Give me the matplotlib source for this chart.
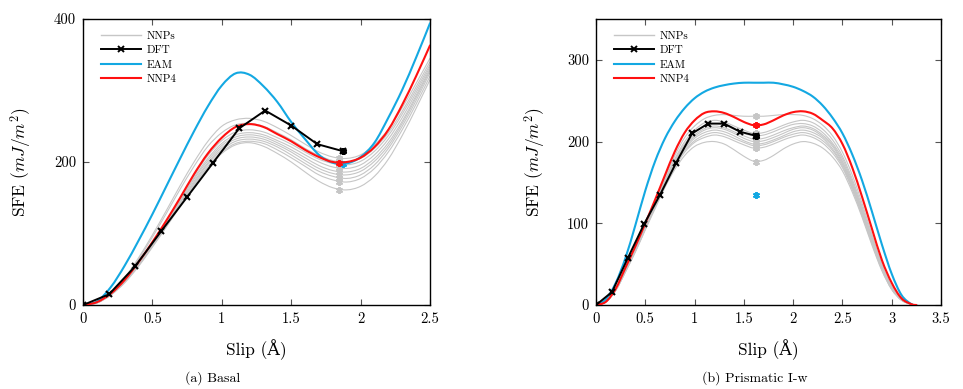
import numpy as np
import matplotlib
matplotlib.use("Agg")
import matplotlib.pyplot as plt
from matplotlib.ticker import FormatStrFormatter
from matplotlib.path import Path
from matplotlib.patches import PathPatch
from matplotlib.lines import Line2D

plt.rcParams['font.family'] = ['cmr10', 'DejaVu Serif']
plt.rcParams['mathtext.fontset'] = 'cm'
plt.rcParams['axes.formatter.use_mathtext'] = True
plt.rcParams['axes.unicode_minus'] = False

# colores
C_NNP = "#c6c6c6"
C_DFT = "black"
C_EAM = "#13a8e2"
C_NNP4 = "#ff1010"

# ---------------- Basal ----------------
basal_s = [0.0, 0.1, 0.2, 0.3, 0.4, 0.5, 0.6, 0.7, 0.8, 0.9, 1.0, 1.1, 1.2,
           1.3, 1.4, 1.5, 1.6, 1.7, 1.8, 1.9, 2.0, 2.1, 2.2, 2.3, 2.4, 2.5]
basal_eam = [0, 5, 25, 55, 90, 127, 166, 205, 243, 278, 307, 324, 322,
             306, 284, 256, 232, 210, 199, 198, 207, 227, 262, 301, 346, 394]
basal_nnp4 = [0, 4, 16, 35, 60, 88, 118, 150, 183, 212, 234, 249, 253,
              249, 239, 229, 217, 207, 200, 200, 206, 221, 245, 280, 320, 363]
basal_nnps = [
    [0, 4, 17, 38, 66, 98, 132, 167, 200, 229, 250, 259, 261, 257, 248, 237, 225, 214, 207, 205, 210, 224, 246, 276, 310, 345],
    [0, 4, 16, 37, 64, 95, 128, 162, 194, 222, 241, 252, 254, 250, 241, 231, 219, 209, 202, 200, 205, 219, 241, 271, 305, 340],
    [0, 4, 15, 34, 59, 87, 117, 149, 181, 209, 230, 242, 245, 242, 234, 225, 214, 204, 198, 196, 201, 215, 237, 267, 301, 336],
    [0, 4, 15, 34, 58, 86, 116, 147, 178, 205, 226, 238, 241, 238, 230, 221, 210, 200, 193, 191, 196, 210, 232, 262, 297, 333],
    [0, 3, 15, 33, 57, 85, 114, 145, 176, 202, 223, 235, 238, 235, 227, 217, 206, 195, 188, 186, 191, 205, 227, 257, 293, 330],
    [0, 3, 15, 33, 57, 84, 113, 143, 173, 199, 220, 232, 235, 232, 224, 214, 202, 191, 184, 182, 187, 201, 223, 254, 290, 328],
    [0, 3, 14, 32, 56, 83, 112, 142, 171, 197, 217, 229, 232, 229, 221, 210, 198, 187, 180, 177, 182, 196, 219, 250, 286, 325],
    [0, 3, 14, 32, 55, 82, 110, 140, 169, 194, 214, 226, 229, 226, 217, 206, 194, 182, 175, 172, 177, 191, 214, 245, 281, 320],
    [0, 3, 14, 31, 54, 81, 109, 138, 167, 192, 212, 224, 227, 222, 212, 200, 186, 173, 164, 161, 166, 180, 204, 237, 275, 315],
]
basal_dft_s = [0, 0.1875, 0.375, 0.5625, 0.75, 0.9375, 1.125, 1.3125, 1.5, 1.6875, 1.875]
basal_dft = [0, 15, 54, 103, 151, 199, 247, 272, 251, 225, 215]
# energias de falla (marcadores *)
basal_sf_s = 1.845
basal_sf_nnps = [205, 200, 196, 191, 186, 182, 177, 172, 161]
basal_sf_nnp4 = 199
basal_sf_eam_s = 1.875
basal_sf_eam = 197

# ---------------- Prismatic I-w ----------------
prism_s = [0.0, 0.1, 0.2, 0.3, 0.4, 0.5, 0.6, 0.7, 0.8, 0.9, 1.0, 1.1, 1.2,
           1.3, 1.4, 1.5, 1.6, 1.7, 1.8, 1.9, 2.0, 2.1, 2.2, 2.3, 2.4, 2.5,
           2.6, 2.7, 2.8, 2.9, 3.0, 3.1, 3.2, 3.25]
prism_eam = [0, 7, 27, 58, 98, 140, 176, 204, 225, 241, 253, 261, 266, 269, 271, 272, 272,
             272, 272, 270, 267, 262, 255, 244, 229, 210, 184, 152, 114, 74, 38, 12, 1, 0]
prism_nnp4 = [0, 4, 20, 46, 72, 100, 129, 159, 188, 211, 226, 235, 237, 235, 230, 224, 220,
              221, 226, 232, 236, 237, 234, 226, 216, 197, 168, 132, 93, 55, 27, 8, 1, 0]
prism_nnps = [
    [0, 4, 19, 44, 70, 98, 127, 156, 183, 205, 219, 228, 232, 233, 232, 231, 231, 231, 232, 233, 233, 232, 228, 220, 207, 187, 159, 124, 86, 50, 23, 7, 1, 0],
    [0, 4, 19, 43, 69, 97, 125, 153, 179, 200, 214, 223, 226, 224, 219, 214, 210, 211, 215, 220, 224, 226, 223, 215, 202, 182, 154, 120, 83, 48, 22, 7, 1, 0],
    [0, 4, 19, 43, 68, 96, 124, 152, 177, 197, 211, 219, 222, 220, 215, 210, 207, 208, 212, 217, 221, 222, 219, 211, 198, 179, 151, 117, 81, 47, 21, 6, 1, 0],
    [0, 4, 18, 42, 68, 95, 123, 150, 175, 195, 208, 216, 219, 217, 212, 207, 203, 204, 208, 213, 217, 219, 216, 208, 196, 176, 149, 115, 79, 46, 21, 6, 1, 0],
    [0, 4, 18, 42, 67, 95, 122, 149, 173, 193, 206, 214, 217, 215, 210, 204, 200, 201, 205, 210, 215, 217, 214, 206, 194, 174, 147, 114, 78, 45, 20, 6, 1, 0],
    [0, 4, 18, 42, 67, 94, 121, 148, 172, 191, 204, 211, 214, 212, 207, 201, 197, 198, 202, 207, 212, 214, 211, 204, 191, 172, 145, 112, 77, 44, 20, 6, 1, 0],
    [0, 4, 18, 41, 66, 93, 120, 146, 170, 189, 201, 208, 211, 209, 204, 199, 195, 196, 200, 205, 209, 211, 208, 201, 189, 170, 143, 111, 76, 44, 20, 6, 1, 0],
    [0, 4, 18, 41, 66, 93, 120, 146, 169, 187, 199, 205, 208, 206, 201, 196, 192, 193, 197, 202, 206, 208, 205, 198, 186, 168, 141, 109, 75, 43, 19, 6, 1, 0],
    [0, 4, 18, 41, 65, 92, 118, 144, 166, 183, 194, 199, 200, 197, 190, 182, 176, 177, 183, 191, 197, 200, 198, 192, 181, 164, 138, 107, 73, 42, 19, 6, 1, 0],
]
prism_dft_s = [0, 0.1625, 0.325, 0.4875, 0.65, 0.8125, 0.975, 1.1375, 1.3, 1.4625, 1.625]
prism_dft = [0, 16, 58, 99, 135, 174, 210, 222, 222, 212, 207]
prism_sf_s = 1.625
prism_sf_nnps = [231, 210, 207, 203, 200, 197, 195, 192, 175]
prism_sf_nnp4 = 220
prism_sf_eam = 135

ASTER = (6, 2, 0)


def smooth_line(ax, x, y, color, lw, zorder):
    # curva suave tipo "smooth" de pgfplots (Bezier por los puntos leidos)
    n = len(x)
    verts = [(x[0], y[0])]
    codes = [Path.MOVETO]
    for i in range(n - 1):
        a = max(i - 1, 0)
        b = min(i + 2, n - 1)
        c1 = (x[i] + (x[i + 1] - x[a]) / 6.0, y[i] + (y[i + 1] - y[a]) / 6.0)
        c2 = (x[i + 1] - (x[b] - x[i]) / 6.0, y[i + 1] - (y[b] - y[i]) / 6.0)
        verts += [c1, c2, (x[i + 1], y[i + 1])]
        codes += [Path.CURVE4] * 3
    ax.add_patch(PathPatch(Path(verts, codes), fill=False, edgecolor=color, lw=lw,
                           zorder=zorder, capstyle="round", joinstyle="round"))


def draw_panel(ax, s, nnps, eam, nnp4, dft_s, dft, sf_s, sf_nnps, sf_nnp4, sf_eam_s, sf_eam):
    for y in nnps:
        smooth_line(ax, s, y, C_NNP, 0.8, 2)
    ax.plot([sf_s] * len(sf_nnps), sf_nnps, ls="none", marker=ASTER, ms=5, mew=1.4,
            color=C_NNP, zorder=2)
    ax.plot(dft_s, dft, color=C_DFT, lw=1.4, marker="x", ms=4.5, mew=1.5, zorder=5)
    ax.plot(dft_s[-1:], dft[-1:], ls="none", marker=ASTER, ms=5, mew=1.8, color=C_DFT, zorder=6)
    smooth_line(ax, s, eam, C_EAM, 1.5, 3)
    ax.plot([sf_eam_s], [sf_eam], ls="none", marker=ASTER, ms=5, mew=1.4, color=C_EAM, zorder=3)
    smooth_line(ax, s, nnp4, C_NNP4, 1.5, 4)
    ax.plot([sf_s], [sf_nnp4], ls="none", marker=ASTER, ms=5, mew=1.4, color=C_NNP4, zorder=4)

    ax.tick_params(direction="in", top=True, right=True, length=4, width=0.8,
                   color="#555555", labelsize=10.5, pad=5)
    ax.xaxis.set_major_formatter(FormatStrFormatter("%g"))
    ax.yaxis.set_major_formatter(FormatStrFormatter("%g"))
    for sp in ax.spines.values():
        sp.set_linewidth(1.0)
    ax.set_xlabel("Slip (Å)", fontsize=12.5)
    ax.set_ylabel(r"SFE ($mJ/m^2$)", fontsize=12.5)

    handles = [
        Line2D([], [], color=C_NNP, lw=1.0),
        Line2D([], [], color=C_DFT, lw=1.4, marker="x", ms=4.5, mew=1.4),
        Line2D([], [], color=C_EAM, lw=1.5),
        Line2D([], [], color=C_NNP4, lw=1.5),
    ]
    ax.legend(handles, ["NNPs", "DFT", "EAM", "NNP4"], loc="upper left",
              bbox_to_anchor=(0.03, 0.985), frameon=False, fontsize=8,
              handlelength=3.6, labelspacing=0.42, borderaxespad=0.3,
              handletextpad=0.5, numpoints=1)


fig = plt.figure(figsize=(9.63, 3.89), dpi=100)
ax1 = fig.add_axes([0.0862, 0.2159, 0.3603, 0.7353])
ax2 = fig.add_axes([0.6189, 0.2159, 0.3583, 0.7353])

draw_panel(ax1, basal_s, basal_nnps, basal_eam, basal_nnp4, basal_dft_s, basal_dft,
           basal_sf_s, basal_sf_nnps, basal_sf_nnp4, basal_sf_eam_s, basal_sf_eam)
ax1.set_xlim(0, 2.5)
ax1.set_ylim(0, 400)
ax1.set_xticks([0, 0.5, 1, 1.5, 2, 2.5])
ax1.set_yticks([0, 200, 400])
ax1.yaxis.set_label_coords(-0.142, 0.5)
ax1.xaxis.set_label_coords(0.5, -0.118)

draw_panel(ax2, prism_s, prism_nnps, prism_eam, prism_nnp4, prism_dft_s, prism_dft,
           prism_sf_s, prism_sf_nnps, prism_sf_nnp4, prism_sf_s, prism_sf_eam)
ax2.set_xlim(0, 3.5)
ax2.set_ylim(0, 350)
ax2.set_xticks([0, 0.5, 1, 1.5, 2, 2.5, 3, 3.5])
ax2.set_yticks([0, 100, 200, 300])
ax2.yaxis.set_label_coords(-0.140, 0.5)
ax2.xaxis.set_label_coords(0.5, -0.118)

fig.text(0.221, 0.028, "(a) Basal", ha="center", va="center", fontsize=10)
fig.text(0.784, 0.028, "(b) Prismatic I-w", ha="center", va="center", fontsize=10)

plt.savefig("out.png", dpi=100)
plt.close()
print("OK")
